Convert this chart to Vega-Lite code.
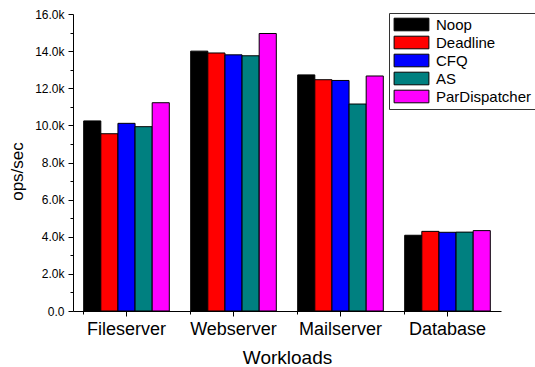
{
  "$schema": "https://vega.github.io/schema/vega-lite/v6.json",
  "width": 428,
  "height": 297,
  "autosize": {"type": "none"},
  "padding": {"left": 73, "top": 14, "right": 34, "bottom": 56},
  "background": "white",
  "config": {
    "font": "Liberation Sans",
    "view": {"stroke": null},
    "axis": {"domainColor": "black", "tickColor": "black", "labelColor": "black", "titleColor": "black", "titleFontWeight": "normal", "grid": false, "labelFont": "Liberation Sans", "titleFont": "Liberation Sans"},
    "legend": {"labelFont": "Liberation Sans"}
  },
  "data": {
    "values": [
      {"workload": "Fileserver", "scheduler": "Noop", "value": 10240},
      {"workload": "Fileserver", "scheduler": "Deadline", "value": 9550},
      {"workload": "Fileserver", "scheduler": "CFQ", "value": 10110},
      {"workload": "Fileserver", "scheduler": "AS", "value": 9930},
      {"workload": "Fileserver", "scheduler": "ParDispatcher", "value": 11220},
      {"workload": "Webserver", "scheduler": "Noop", "value": 14000},
      {"workload": "Webserver", "scheduler": "Deadline", "value": 13900},
      {"workload": "Webserver", "scheduler": "CFQ", "value": 13800},
      {"workload": "Webserver", "scheduler": "AS", "value": 13750},
      {"workload": "Webserver", "scheduler": "ParDispatcher", "value": 14950},
      {"workload": "Mailserver", "scheduler": "Noop", "value": 12720},
      {"workload": "Mailserver", "scheduler": "Deadline", "value": 12460},
      {"workload": "Mailserver", "scheduler": "CFQ", "value": 12420},
      {"workload": "Mailserver", "scheduler": "AS", "value": 11150},
      {"workload": "Mailserver", "scheduler": "ParDispatcher", "value": 12660},
      {"workload": "Database", "scheduler": "Noop", "value": 4080},
      {"workload": "Database", "scheduler": "Deadline", "value": 4290},
      {"workload": "Database", "scheduler": "CFQ", "value": 4240},
      {"workload": "Database", "scheduler": "AS", "value": 4250},
      {"workload": "Database", "scheduler": "ParDispatcher", "value": 4330}
    ]
  },
  "resolve": {"axis": {"x": "independent", "y": "independent"}},
  "layer": [
    {
      "mark": {"type": "bar", "stroke": "black", "strokeWidth": 1, "opacity": 1},
      "encoding": {
        "x": {
          "field": "workload", "type": "nominal", "sort": null,
          "scale": {"paddingInner": 0.2, "paddingOuter": 0.1},
          "axis": {"orient": "bottom", "labelAngle": 0, "labelFontSize": 18, "tickSize": 5, "labelPadding": 4, "title": "Workloads", "titleFontSize": 19, "titlePadding": 10}
        },
        "xOffset": {"field": "scheduler", "type": "nominal", "sort": ["Noop", "Deadline", "CFQ", "AS", "ParDispatcher"], "scale": {"paddingInner": 0, "paddingOuter": 0}},
        "y": {
          "field": "value", "type": "quantitative",
          "scale": {"domain": [0, 16000], "nice": false},
          "axis": {
            "orient": "left",
            "title": "ops/sec", "titleFontSize": 17, "titlePadding": 8, "titleY": 157,
            "values": [0, 2000, 4000, 6000, 8000, 10000, 12000, 14000, 16000],
            "labelExpr": "datum.value == 0 ? '0.0' : format(datum.value / 1000, '.1f') + 'k'",
            "labelOverlap": false,
            "labelFontSize": 12,
            "labelPadding": 4,
            "tickSize": 5
          }
        },
        "color": {
          "field": "scheduler", "type": "nominal",
          "scale": {"domain": ["Noop", "Deadline", "CFQ", "AS", "ParDispatcher"], "range": ["#000000", "#FF0000", "#0000FF", "#008080", "#FF00FF"]},
          "legend": {
            "orient": "none", "legendX": 316, "legendY": -1, "title": null,
            "strokeColor": "#333333", "padding": 4,
            "labelFontSize": 15, "labelOffset": 17, "labelColor": "black",
            "symbolType": "M-2.9,-1.05H2.9V1.05H-2.9Z", "symbolSize": 144, "symbolOffset": 11,
            "symbolStrokeColor": "black", "symbolStrokeWidth": 1, "symbolOpacity": 1,
            "rowPadding": 1
          }
        }
      }
    },
    {
      "mark": {"type": "bar", "opacity": 0},
      "encoding": {
        "x": {
          "field": "workload", "type": "nominal", "sort": null,
          "axis": {"orient": "bottom", "bandPosition": 0, "labels": false, "domain": false, "tickSize": 3, "title": null}
        },
        "y": {
          "field": "value", "type": "quantitative",
          "axis": {"orient": "left", "values": [1000, 3000, 5000, 7000, 9000, 11000, 13000, 15000], "labels": false, "domain": false, "tickSize": 3, "title": null}
        }
      }
    }
  ]
}
